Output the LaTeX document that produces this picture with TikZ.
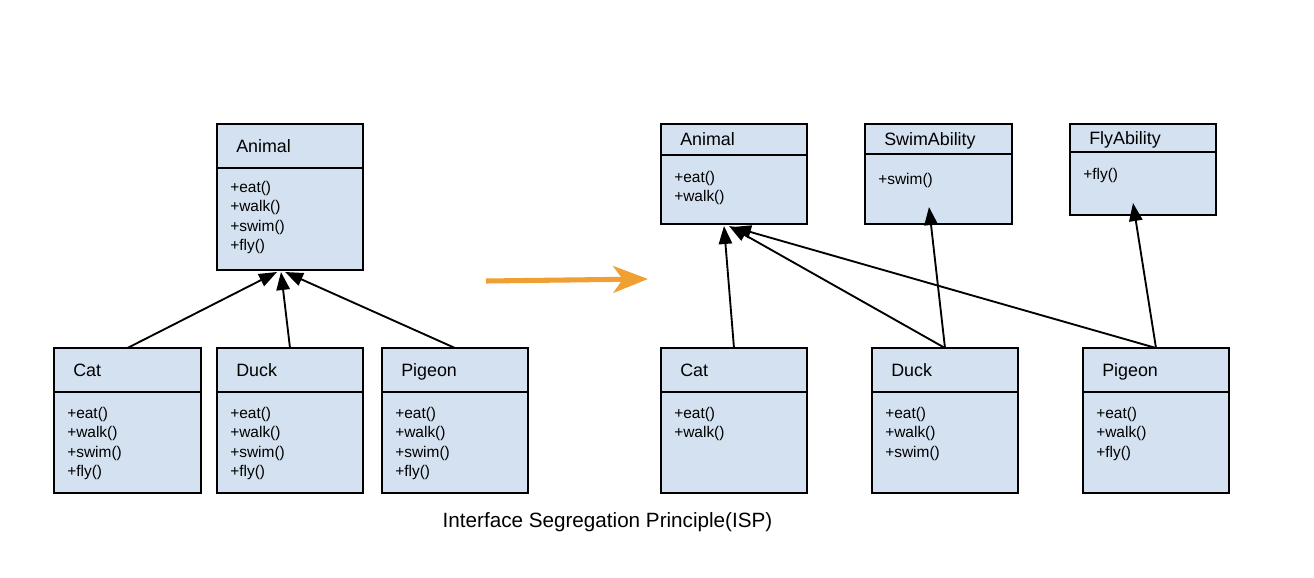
\documentclass[tikz,border=0pt]{standalone}
\usepackage{fontspec}
\setmainfont{Liberation Sans}
\usetikzlibrary{arrows.meta}
\definecolor{boxfill}{RGB}{212,225,240}
\definecolor{orng}{RGB}{240,160,50}
% #1 name, #2 x, #3 y, #4 w, #5 h, #6 header height, #7 title, #8 methods, #9 method offset, #10 title baseline
\newcommand\umlclass[9]{%
  \node[cls, minimum width=#4*0.75pt, minimum height=#5*0.75pt, anchor=north west] (#1) at (#2,#3) {};
  \draw[div] ([yshift=-#6*0.75pt]#1.north west) -- ([yshift=-#6*0.75pt]#1.north east);
  \node[hdr, anchor=base west] (#1-t) at ([xshift=19*0.75pt, yshift=-(#6*0.5+6)*0.75pt]#1.north west) {#7};
  \node[mth, anchor=north west] (#1-m) at ([xshift=13*0.75pt, yshift=-(#6+#9)*0.75pt]#1.north west) {#8};
}
\begin{document}
\begin{tikzpicture}[x=0.75pt,y=-0.75pt,
  cls/.style={draw=black, fill=boxfill, line width=1.5pt, inner sep=0pt, outer sep=0pt},
  div/.style={draw=black, line width=1.5pt},
  hdr/.style={font=\fontsize{13.4}{15}\selectfont, inner sep=0pt},
  mth/.style={font=\fontsize{11.6}{14.5}\selectfont, align=left, inner sep=0pt},
  inh/.style={draw=black, line width=1.4pt, -{Triangle[length=13.5pt, width=10pt]}},
  ttl/.style={font=\fontsize{15.5}{18}\selectfont, inner sep=0pt}]
\useasboundingbox (0,0) rectangle (1314,578);
% left
\umlclass{la}{217}{124}{146}{146}{44}{Animal}{+eat()\\+walk()\\+swim()\\+fly()}{13}
\umlclass{lc}{54}{348}{147}{145}{44}{Cat}{+eat()\\+walk()\\+swim()\\+fly()}{15}
\umlclass{ld}{217}{348}{146}{145}{44}{Duck}{+eat()\\+walk()\\+swim()\\+fly()}{15}
\umlclass{lp}{382}{348}{146}{145}{44}{Pigeon}{+eat()\\+walk()\\+swim()\\+fly()}{15}
% right
\umlclass{ra}{661}{124}{146}{100}{31}{Animal}{+eat()\\+walk()}{16}
\umlclass{rs}{865}{124}{147}{100}{30}{SwimAbility}{+swim()}{19}
\umlclass{rf}{1070}{124}{146}{91}{28}{FlyAbility}{+fly()}{16}
\umlclass{rc}{661}{348}{146}{145}{44}{Cat}{+eat()\\+walk()}{15}
\umlclass{rd}{872}{348}{146}{145}{44}{Duck}{+eat()\\+walk()\\+swim()}{15}
\umlclass{rp}{1083}{348}{146}{145}{44}{Pigeon}{+eat()\\+walk()\\+fly()}{15}
% arrow tips
\coordinate (lt1) at (277,272);
\coordinate (lt2) at (281,272);
\coordinate (lt3) at (285,272);
\coordinate (rt1) at (724,226);
\coordinate (rt2) at (729,226);
\coordinate (rt3) at (733,227);
\coordinate (st) at (929,207);
\coordinate (ft) at (1133,203);
\draw[inh] (lc.north) -- (lt1);
\draw[inh] (ld.north) -- (lt2);
\draw[inh] (lp.north) -- (lt3);
\draw[inh] (rc.north) -- (rt1);
\draw[inh] (rd.north) -- (rt2);
\draw[inh] (rp.north) -- (rt3);
\draw[inh] (rd.north) -- (st);
\draw[inh] (rp.north) -- (ft);
% transformation arrow
\coordinate (o1) at (486,281);
\coordinate (o2) at (648,279);
\draw[orng, line width=3.8pt, -{Stealth[length=26pt, width=20pt, inset=7pt]}] (o1) -- (o2);
\node[ttl] (title) at (607.5,522.5) {Interface Segregation Principle(ISP)};
\end{tikzpicture}
\end{document}
